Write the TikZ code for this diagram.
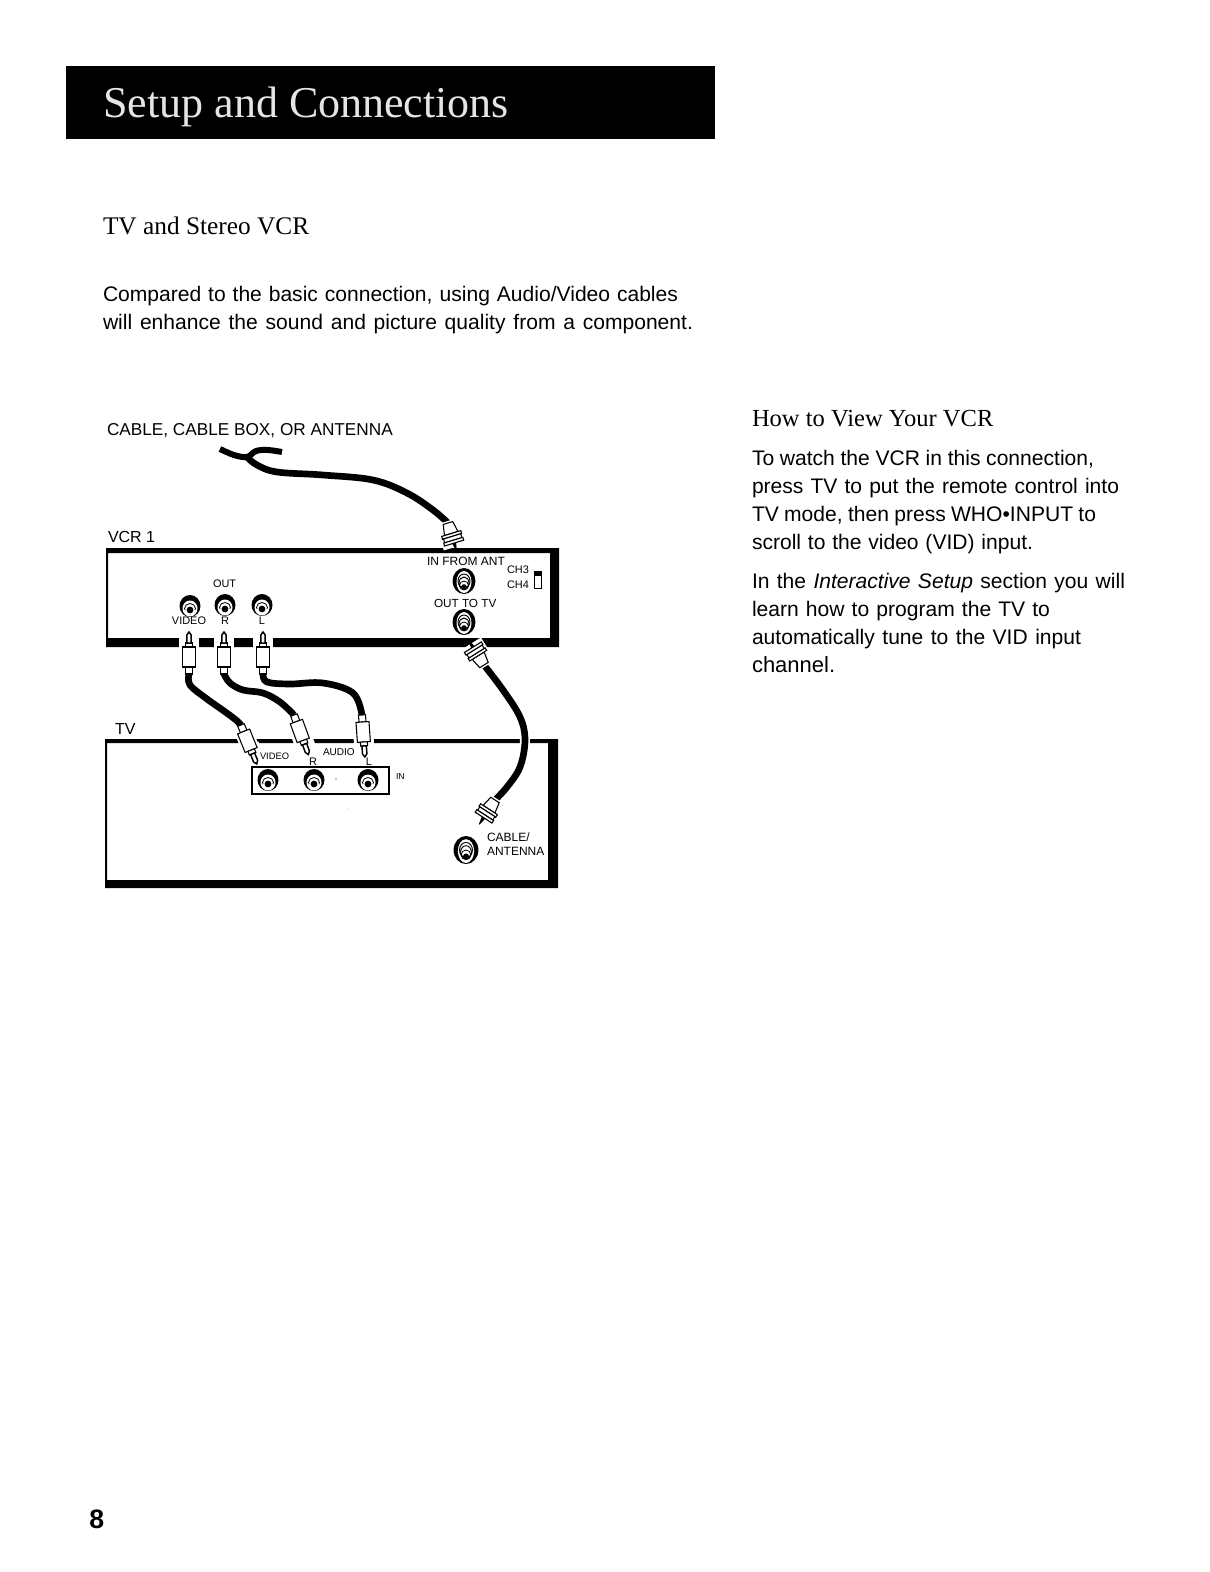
\documentclass[tikz,border=0pt]{standalone}
\usepackage{fontspec}
\setmainfont{Liberation Sans}
\newfontfamily\serifface{Liberation Serif}
\newcommand{\pxfont}[1]{\fontsize{#1}{#1}\selectfont}
\newcommand{\fitl}[2]{\hbox to \dimexpr #1pt*3/4\relax{#2}}
\newcommand{\jackpic}[3]{%
  \coordinate (#1) at (#2);
  \begin{scope}[shift={(#1)},scale=#3]
    \fill[black] (0,0) ellipse [x radius=10.5,y radius=11];
    \fill[white] (0,2.5) ellipse [x radius=7.5,y radius=8];
    \draw[black,line width=.6pt] (0,2.5) ellipse [x radius=5.5,y radius=5];
    \fill[white] (0,5.5) ellipse [x radius=5.5,y radius=4];
    \fill[black] (0,4) circle [radius=3.4];
  \end{scope}}
\newcommand{\coaxjack}[3]{%
  \coordinate (#1) at (#2);
  \begin{scope}[shift={(#1)},scale=#3]
    \fill[black] (0,0) ellipse [x radius=11.5,y radius=13];
    \fill[white] (0,1) ellipse [x radius=7.5,y radius=11];
    \draw[black,line width=.7pt] (0,0) ellipse [x radius=6,y radius=7];
    \draw[black,line width=.7pt] (0,2) ellipse [x radius=5,y radius=6];
    \draw[black,line width=.6pt] (0,4.5) ellipse [x radius=4.5,y radius=4.5];
    \fill[black] (0,6) circle [radius=2.8];
  \end{scope}}
\newcommand{\rcaplug}[3]{%
  \coordinate (#1) at (#2);
  \begin{scope}[shift={(#1)},rotate=#3]
    \fill[white] (-10,22) rectangle (10,36);
    \fill[white] (-9,4) rectangle (9,27);
    \draw[plugline,fill=white] (-3.5,0) rectangle (3.5,7);
    \draw[plugline,fill=white] (-6.5,7) rectangle (6.5,27);
    \draw[plugline,fill=white] (-3.5,27) rectangle (3.5,31);
    \draw[plugline,fill=white,line width=1.1pt] (-2.2,31) -- (-2.2,39) -- (0,42) -- (2.2,39) -- (2.2,31) -- cycle;
  \end{scope}}
\newcommand{\coaxplug}[3]{%
  \coordinate (#1) at (#2);
  \begin{scope}[shift={(#1)},rotate=#3]
    \fill[white] (-12,-2) rectangle (12,25);
    \draw[plugline,fill=white] (-5,0) -- (5,0) -- (7,11) -- (-7,11) -- cycle;
    \draw[plugline,fill=white] (-10,11) rectangle (10,14);
    \draw[plugline,fill=white] (-9,14) rectangle (9,18);
    \draw[plugline,fill=white] (-10,18) rectangle (10,21);
    \fill[black] (-2,21) -- (2,21) -- (0.4,29) -- (-0.4,29) -- cycle;
  \end{scope}}
\tikzset{
  x=.75pt,y=-.75pt,
  plugline/.style={black,line width=.8pt,line join=miter},
  cablehalo/.style={white,line width=7.5pt,line cap=butt},
  cableline/.style={black,line width=5pt,line cap=butt},
  tiny label/.style={anchor=base west,inner sep=0pt,outer sep=0pt,font=\pxfont{8.2}},
  tiny mid/.style={anchor=base,inner sep=0pt,outer sep=0pt,font=\pxfont{8.2}},
  device label/.style={anchor=base west,inner sep=0pt,outer sep=0pt,font=\pxfont{12}},
  body text/.style={anchor=base west,inner sep=0pt,outer sep=0pt,font=\pxfont{15.8}},
  subhead/.style={anchor=base west,inner sep=0pt,outer sep=0pt,font=\serifface\pxfont{19}},
}
\begin{document}
\begin{tikzpicture}
\useasboundingbox (0,0) rectangle (1210,1572);
\fill[white] (0,0) rectangle (1210,1572);
% header
\fill[black] (66,66) rectangle (715,139);
\node[anchor=base west,inner sep=0pt,text=white!90!black,font=\serifface\pxfont{33}] (title) at (103,117) {Setup and Connections};
% texts
\node[subhead] (sub1) at (103,234) {TV and Stereo VCR};
\node[body text] (p1a) at (103,301) {\fitl{575}{Compared to the basic connection, using Audio/Video cables}};
\node[body text] (p1b) at (103,329) {\fitl{590}{will enhance the sound and picture quality from a component.}};
\node[subhead,font=\serifface\pxfont{18.4}] (sub2) at (752,426) {How to View Your VCR};
\node[body text] (r1) at (752,465) {\fitl{342}{To watch the VCR in this connection,}};
\node[body text] (r2) at (752,493) {\fitl{367}{press TV to put the remote control into}};
\node[body text] (r3) at (752,521) {\fitl{344}{TV mode, then press WHO•INPUT to}};
\node[body text] (r4) at (752,549) {\fitl{281}{scroll to the video (VID) input.}};
\node[body text] (r5) at (752,588) {\fitl{373}{In the \textit{Interactive Setup} section you will}};
\node[body text] (r6) at (752,616) {\fitl{298}{learn how to program the TV to}};
\node[body text] (r7) at (752,644) {\fitl{329}{automatically tune to the VID input}};
\node[body text,font=\pxfont{16.5}] (r8) at (752,672) {channel.};
\node[anchor=base west,inner sep=0pt,font=\pxfont{20}\bfseries] (pg) at (89,1528) {8};
% device boxes
\fill[black,even odd rule] (106,548) rectangle (559,647) (108,553) rectangle (550,638);
\fill[black,even odd rule] (105,739) rectangle (558,888) (107,743) rectangle (548,880);
\draw[black,line width=1.1pt] (252,767) rectangle (389,794);
\fill[black] (336,779) circle [radius=.7];
\fill[black!35] (348,808) circle [radius=.5];
% jacks
\jackpic{jv}{190,606}{1}
\jackpic{jr}{225,605}{1}
\jackpic{jl}{262,605}{1}
\coaxjack{jin}{464,581}{1}
\coaxjack{jout}{464,622}{1}
\jackpic{tv}{268,780}{1}
\jackpic{tr}{314,780}{1}
\jackpic{tl}{368,780}{1}
\coaxjack{tant}{466,850}{1.08}
% channel switch
\draw[black,line width=.7pt] (534,571) rectangle (541,588);
\fill[black] (534,571) rectangle (541,576);
% A/V cables
\coordinate (va) at (189,674);
\coordinate (vb) at (241,725);
\coordinate (ra) at (224,674);
\coordinate (rb) at (294,715);
\coordinate (la) at (263,674);
\coordinate (lb) at (362,715);
\foreach \s in {cablehalo,cableline}{
  \draw[\s] plot[smooth,tension=.6] coordinates {(va) (190,685) (207,699) (224,711) (236,720) (vb)};
  \draw[\s] plot[smooth,tension=.6] coordinates {(ra) (230,683) (243,690) (263,693) (280,702) (rb)};
  \draw[\s] plot[smooth,tension=.6] coordinates {(la) (267,682) (290,684) (323,683) (353,693) (lb)};
}
\rcaplug{pv}{va}{180}
\rcaplug{pr}{ra}{180}
\rcaplug{pl}{la}{180}
\rcaplug{qv}{vb}{22}
\rcaplug{qr}{rb}{20}
\rcaplug{ql}{lb}{4}
% coax cables
\coordinate (ca) at (247,457);
\coordinate (cb) at (448,523);
\coordinate (cc) at (484,665);
\coordinate (cd) at (495,800);
\coordinate (tail1) at (220,449);
\coordinate (tail2) at (282,452);
\draw[cableline] plot[smooth,tension=.6] coordinates {(ca) (257,465) (277,472) (323,475) (373,480) (407,493) (433,510) (cb)};
\draw[cableline,line width=4.5pt] plot[smooth,tension=.6] coordinates {(tail1) (234,455) (ca) (256,451) (268,450) (tail2)};
\draw[cablehalo] plot[smooth,tension=.6] coordinates {(cc) (503,690) (520,717) (525,740) (520,767) (507,787) (cd)};
\draw[cableline] plot[smooth,tension=.6] coordinates {(cc) (503,690) (520,717) (525,740) (520,767) (507,787) (cd)};
\coaxplug{fa}{cb}{17}
\coaxplug{fb}{cc}{212}
\coaxplug{fc}{cd}{-33}
% labels
\node[device label,font=\pxfont{12.9}] (lcable) at (107,435) {CABLE, CABLE BOX, OR ANTENNA};
\node[device label] (lvcr) at (108,542) {VCR 1};
\node[device label] (ltv) at (115,734) {TV};
\node[tiny label,font=\pxfont{9}] (lin) at (427,565) {IN FROM ANT};
\node[tiny label] (lch3) at (507,573) {CH3};
\node[tiny label] (lch4) at (507,588) {CH4};
\node[tiny label,font=\pxfont{8.8}] (lout) at (434,607) {OUT TO TV};
\node[tiny label] (lo) at (213,587) {OUT};
\node[tiny mid] (lv) at (189,624) {VIDEO};
\node[tiny mid] (lr) at (225,624) {R};
\node[tiny mid] (ll) at (262,624) {L};
\node[tiny label,font=\pxfont{7}] (tvv) at (260,759) {VIDEO};
\node[tiny label,font=\pxfont{7.5}] (tva) at (323,755) {AUDIO};
\node[tiny mid] (tvr) at (313,765) {R};
\node[tiny mid] (tvl) at (369,765) {L};
\node[tiny label,font=\pxfont{6.5}] (tvin) at (396,779) {IN};
\node[tiny label,font=\pxfont{9}] (tc1) at (487,841) {CABLE/};
\node[tiny label,font=\pxfont{9}] (tc2) at (487,855) {ANTENNA};
\end{tikzpicture}
\end{document}
